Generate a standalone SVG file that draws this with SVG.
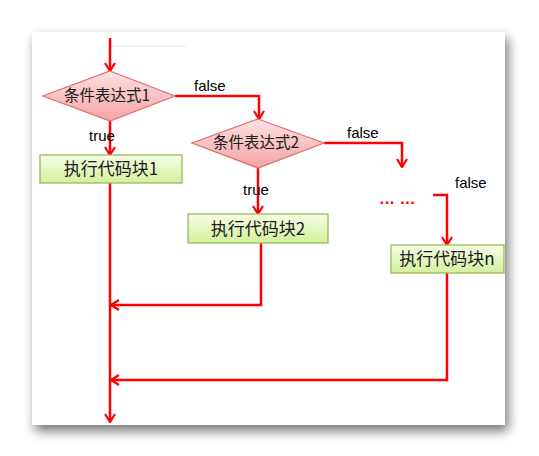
<svg xmlns="http://www.w3.org/2000/svg" width="539" height="456" viewBox="0 0 539 456">
<defs>
<filter id="shadow" x="-10%" y="-10%" width="120%" height="125%">
<feGaussianBlur in="SourceAlpha" stdDeviation="6"/>
<feOffset dx="3" dy="6" result="b"/>
<feComponentTransfer><feFuncA type="linear" slope="0.55"/></feComponentTransfer>
<feMerge><feMergeNode/><feMergeNode in="SourceGraphic"/></feMerge>
</filter>
<linearGradient id="gDia" x1="0" y1="0" x2="0" y2="1">
<stop offset="0" stop-color="#fde2e2"/>
<stop offset="1" stop-color="#f5a3a3"/>
</linearGradient>
<linearGradient id="gBox" x1="0" y1="0" x2="0" y2="1">
<stop offset="0" stop-color="#f6fde6"/>
<stop offset="1" stop-color="#d3f09d"/>
</linearGradient>
<marker id="arr" viewBox="0 0 10 12" refX="9" refY="6" markerWidth="10" markerHeight="12" markerUnits="userSpaceOnUse" orient="auto">
<path d="M1,1 L9,6 L1,11" fill="none" stroke="#ff0000" stroke-width="2.2"/>
</marker>
</defs>
<style>
.dia{fill:url(#gDia);stroke:#d9706e;stroke-width:1.2}
.box{fill:url(#gBox);stroke:#9bbb59;stroke-width:1.3}
.cn{font-family:"Noto Sans CJK SC","Noto Sans",sans-serif;font-size:15.5px;fill:#1a1a1a;text-anchor:middle}
.bt{font-size:17px}
.lbl{font-family:"Liberation Sans",Arial,sans-serif;font-size:15px;fill:#000}
.ln{fill:none;stroke:#ff0000;stroke-width:2.5}
</style>
<rect x="0" y="0" width="539" height="456" fill="#ffffff"/>
<rect x="32" y="32" width="473" height="393" fill="#ffffff" filter="url(#shadow)"/>
<line x1="111" y1="46" x2="186" y2="46" stroke="#e6ecef" stroke-width="1"/>

<g id="connectors">
<path class="ln" d="M110,38 V71" marker-end="url(#arr)"/>
<path class="ln" d="M175,96 H259 V119" marker-end="url(#arr)"/>
<path class="ln" d="M110,121 V155" marker-end="url(#arr)"/>
<path class="ln" d="M110,183 V422" marker-end="url(#arr)"/>
<path class="ln" d="M324,143 H402 V167" marker-end="url(#arr)"/>
<path class="ln" d="M258,168 V214" marker-end="url(#arr)"/>
<path class="ln" d="M261,243 V305 H111" marker-end="url(#arr)"/>
<path class="ln" d="M433,195 H447 V245" marker-end="url(#arr)"/>
<path class="ln" d="M447,273 V380 H111" marker-end="url(#arr)"/>
</g>

<g id="cond1">
<polygon class="dia" points="110,71 175,96 110,121 43,96"/>
<text class="cn" x="107" y="101">条件表达式1</text>
</g>
<g id="cond2">
<polygon class="dia" points="258,119 324,143 258,168 192,143"/>
<text class="cn" x="256" y="148">条件表达式2</text>
</g>
<g id="block1">
<rect class="box" x="40" y="155" width="142" height="28"/>
<text class="cn bt" x="111" y="175">执行代码块1</text>
</g>
<g id="block2">
<rect class="box" x="188" y="214" width="140" height="29"/>
<text class="cn bt" x="258" y="235">执行代码块2</text>
</g>
<g id="blockn">
<rect class="box" x="391" y="245" width="113" height="28"/>
<text class="cn bt" x="447" y="265">执行代码块n</text>
</g>

<g id="labels">
<text class="lbl" x="194" y="91">false</text>
<text class="lbl" x="89" y="141">true</text>
<text class="lbl" x="347" y="138">false</text>
<text class="lbl" x="243" y="195">true</text>
<text class="lbl" x="455" y="188">false</text>
<text x="379" y="204" font-family="Liberation Sans,Arial,sans-serif" font-size="16" font-weight="bold" fill="#ff0000">… …</text>
</g>
</svg>
